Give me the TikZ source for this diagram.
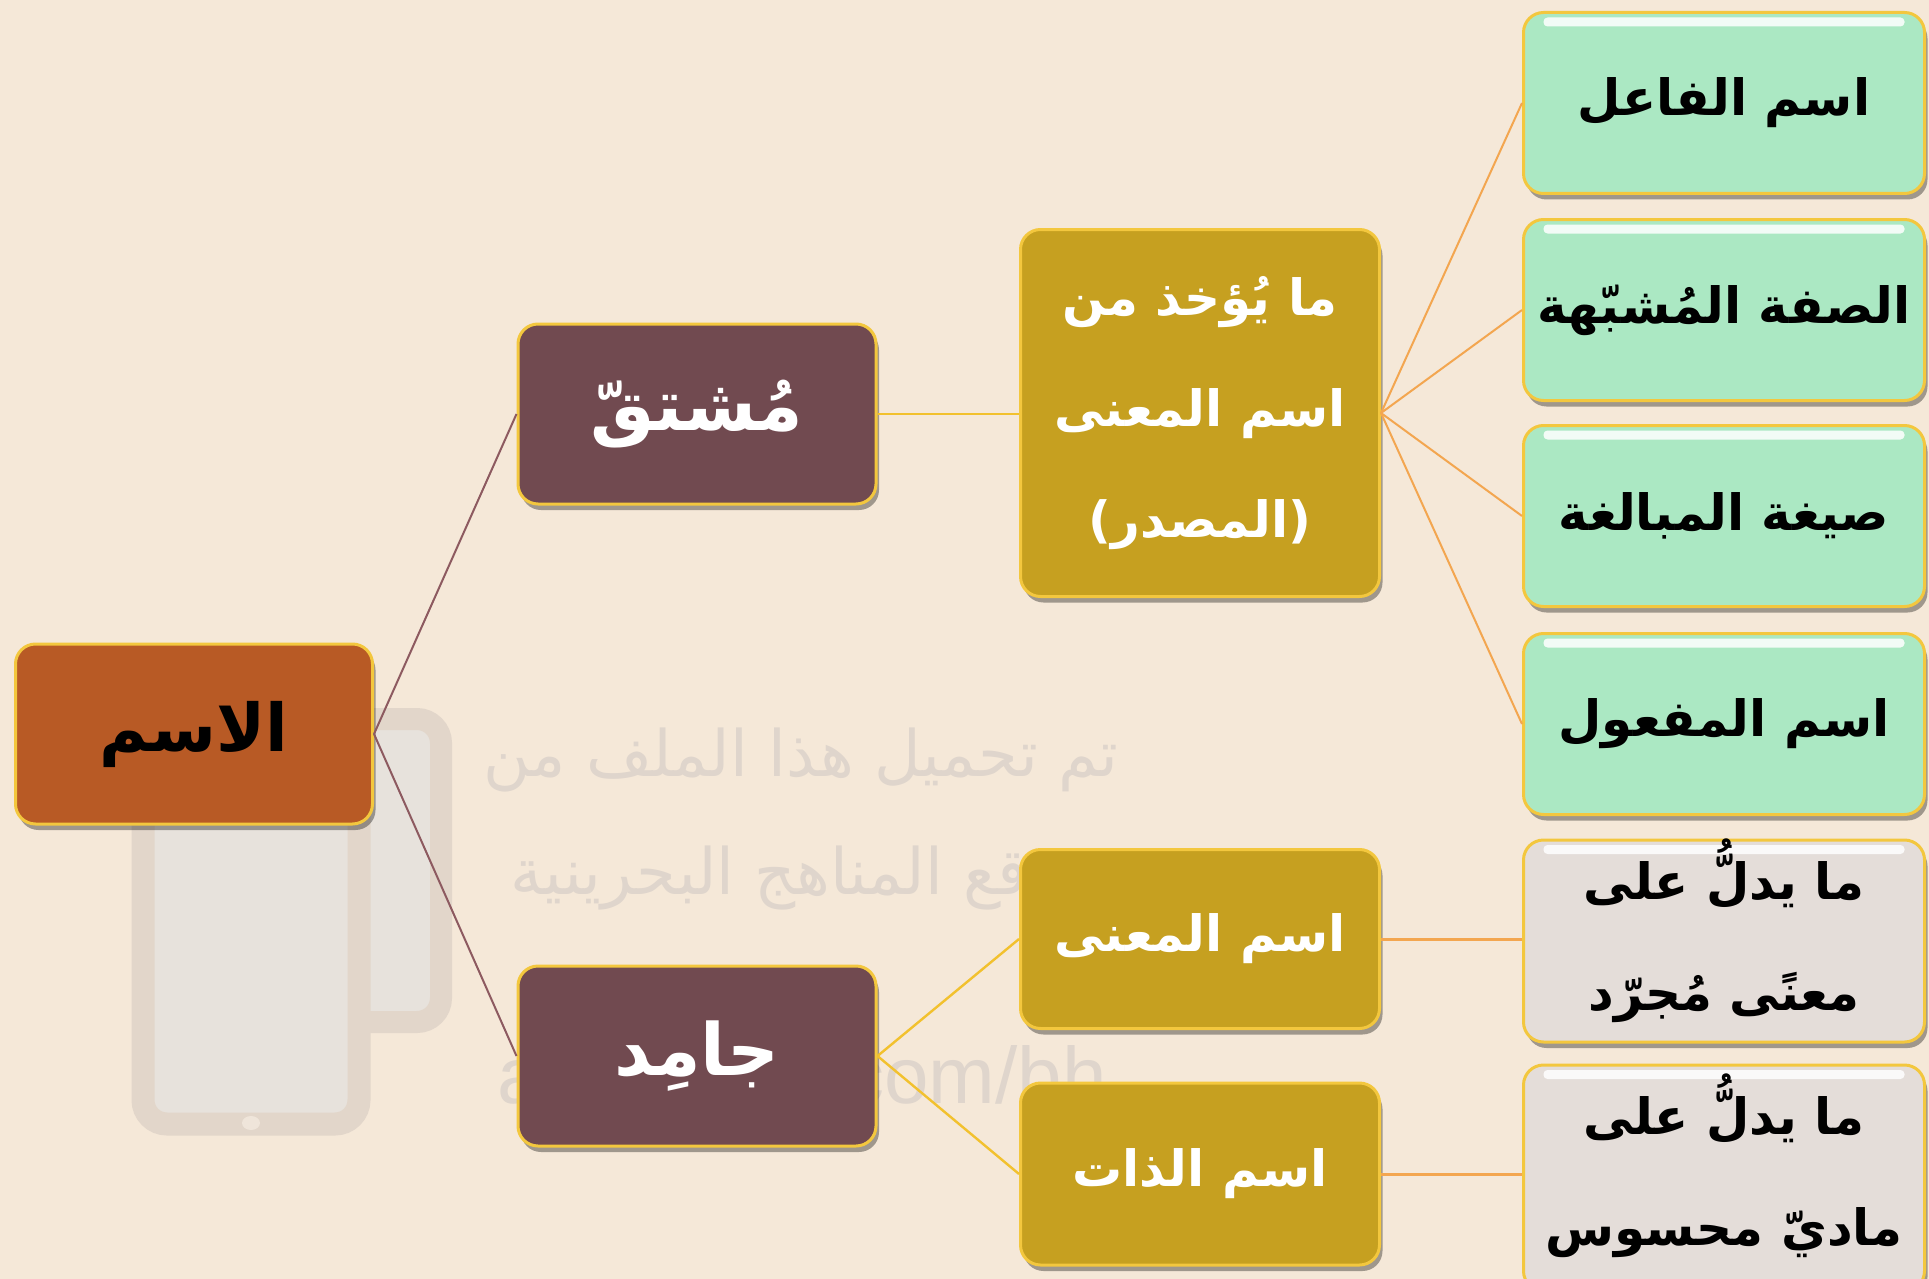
\documentclass[tikz,border=0pt]{standalone}
\usepackage{fontspec}
\newfontfamily\arabicfont[Script=Arabic]{DejaVu Sans}
\newfontfamily\wmlatin{Liberation Sans}
\TeXXeTstate=1
\usetikzlibrary{shadows}
\definecolor{bgc}{HTML}{F5E8D8}
\definecolor{wmframe}{HTML}{E2D6CA}
\definecolor{wminner}{HTML}{E7E2DC}
\definecolor{wmtext}{HTML}{DFD5CC}
\definecolor{rootfill}{HTML}{B85A25}
\definecolor{mauvefill}{HTML}{714A50}
\definecolor{goldfill}{HTML}{C6A020}
\definecolor{greenfill}{HTML}{ABE8C3}
\definecolor{greyfill}{HTML}{E4DDD9}
\definecolor{boxborder}{HTML}{F3C73E}
\definecolor{linkmauve}{HTML}{8D5A60}
\definecolor{linkyellow}{HTML}{F2C12E}
\definecolor{linkorange}{HTML}{F3A650}
\newcommand\artext[1]{\beginR #1\endR}
\tikzset{
  box/.style={draw=boxborder, line width=1.5pt, rounded corners=10pt, inner sep=0pt, align=center,
    drop shadow={shadow xshift=1.5pt, shadow yshift=-3pt, opacity=0.35, fill=black}},
  shine/.style={path picture={\fill[white,opacity=0.85,rounded corners=2pt]
      ([xshift=10pt,yshift=-2.5pt]path picture bounding box.north west) rectangle
      ([xshift=-10pt,yshift=-7pt]path picture bounding box.north east);}},
  rootbox/.style={box, fill=rootfill, minimum width=178.5pt, minimum height=90pt,
    font=\arabicfont\bfseries\fontsize{33}{38}\selectfont, text=black},
  mauvebox/.style={box, fill=mauvefill, minimum width=179pt, minimum height=90pt,
    font=\arabicfont\bfseries\fontsize{36}{40}\selectfont, text=white},
  goldbox/.style={box, fill=goldfill, minimum width=179.5pt,
    font=\arabicfont\bfseries\fontsize{25}{55.5}\selectfont, text=white},
  greenbox/.style={box, shine, fill=greenfill, minimum width=200.5pt, minimum height=90.5pt,
    font=\arabicfont\bfseries\fontsize{25}{55.5}\selectfont, text=black},
  greybox/.style={box, shine, fill=greyfill, minimum width=200.5pt},
  greytext/.style={inner sep=0pt, align=center, text=black,
    font=\arabicfont\bfseries\fontsize{25}{55.5}\selectfont},
  wmtxt/.style={text=wmtext, inner sep=0pt},
  linkA/.style={draw=linkmauve, line width=1pt},
  linkB/.style={draw=linkyellow, line width=1.2pt},
  linkC/.style={draw=linkorange, line width=1pt},
  linkD/.style={draw=linkorange, line width=1.5pt}
}
\begin{document}
\begin{tikzpicture}[x=0.5pt,y=-0.5pt]
\fill[bgc] (0,0) rectangle (1929,1279);
\useasboundingbox (0,0) rectangle (1929,1279);
% watermark
\draw[wmframe, line width=11pt, fill=wminner, rounded corners=12pt] (245,719) rectangle (441,1022);
\draw[wmframe, line width=11.5pt, fill=wminner, rounded corners=12pt] (143,790) rectangle (359,1124);
\fill[bgc!60!wminner] (251,1123) ellipse (9 and 7);
\node[wmtxt, font=\arabicfont\fontsize{32}{36}\selectfont] (wm1) at (801,760) {\artext{تم تحميل هذا الملف من}};
\node[wmtxt, font=\arabicfont\fontsize{32}{36}\selectfont] (wm2) at (803,878) {\artext{موقع المناهج البحرينية}};
\node[wmtxt, font=\wmlatin\fontsize{40}{44}\selectfont] (wm3) at (802,1083) {alManahj.com/bh};
% nodes
\node[rootbox] (root) at (194,734) {\artext{الاسم}};
\node[mauvebox] (mushtaq) at (697,414) {\artext{مُشتقّ}};
\node[mauvebox] (jamid) at (697,1056) {\artext{جامِد}};
\node[goldbox, minimum height=183.5pt] (g1) at (1200,413) {\artext{ما يُؤخذ من}\\\artext{اسم المعنى}\\\artext{(المصدر)}};
\node[goldbox, minimum height=89.5pt] (g2) at (1200,939) {\artext{اسم المعنى}};
\node[goldbox, minimum height=91pt] (g3) at (1200,1174) {\artext{اسم الذات}};
\node[greenbox] (s1) at (1724,103) {\artext{اسم الفاعل}};
\node[greenbox] (s2) at (1724,310) {\artext{الصفة المُشبّهة}};
\node[greenbox] (s3) at (1724,516) {\artext{صيغة المبالغة}};
\node[greenbox] (s4) at (1724,724) {\artext{اسم المفعول}};
\node[greybox, minimum height=101pt] (d1) at (1724,941) {};
\node[greytext] (d1t) at ([yshift=5pt]d1.center) {\artext{ما يدلُّ على}\\\artext{معنًى مُجرّد}};
\node[greybox, minimum height=113pt] (d2) at (1724,1178) {};
\node[greytext] (d2t) at ([yshift=6pt]d2.center) {\artext{ما يدلُّ على}\\\artext{ماديّ محسوس}};
% connectors
\draw[linkA] (root.east) -- (mushtaq.west);
\draw[linkA] (root.east) -- (jamid.west);
\draw[linkB] (mushtaq.east) -- (mushtaq.east -| g1.west);
\draw[linkB] (jamid.east) -- (g2.west);
\draw[linkB] (jamid.east) -- (g3.west);
\foreach \t in {s1,s2,s3,s4} \draw[linkC] (g1.east) -- (\t.west);
\draw[linkD] (g2.east) -- (g2.east -| d1.west);
\draw[linkD] (g3.east) -- (g3.east -| d2.west);
\end{tikzpicture}
\end{document}
